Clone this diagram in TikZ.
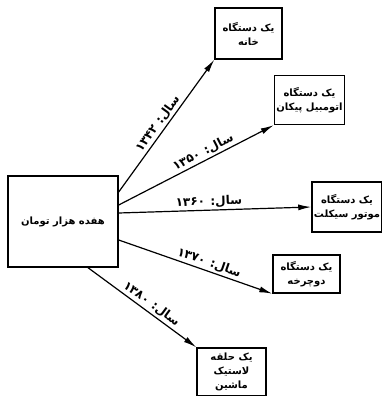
\documentclass[tikz,border=0pt]{standalone}
\usepackage{fontspec}
\usepackage{tikz}
\usetikzlibrary{arrows.meta,positioning}
\TeXXeTstate=1
\newfontfamily\arabicfont[Script=Arabic]{DejaVu Sans}
\tikzstyle{box}=[draw,rectangle,line width=1.4pt,align=center,inner sep=2pt,
font=\arabicfont\bfseries\fontsize{10}{14}\selectfont]
\tikzstyle{link}=[line width=1.2pt,-{Latex[length=13pt,width=6pt]}]
\tikzstyle{year}=[sloped,above,inner sep=2pt,font=\arabicfont\bfseries\fontsize{12}{14}\selectfont]

\begin{document}
\begin{tikzpicture}[x=1pt,y=-1pt]
  \useasboundingbox (0,0) rectangle (382,396);

  \node[box, minimum width=110pt, minimum height=91pt] (money) at (63,221.5)
    {\beginR هفده هزار تومان\endR};
  \node[box, minimum width=67pt, minimum height=51pt] (home) at (248.5,33.5)
    {\beginR یک دستگاه\endR\\ \beginR خانه\endR};
  \node[box, minimum width=65pt, minimum height=49pt] (car) at (309.5,100)
    {\beginR یک دستگاه\endR\\ \beginR اتومبیل پیکان\endR};
  \node[box, minimum width=68pt, minimum height=50pt] (motor) at (347,207)
    {\beginR یک دستگاه\endR\\ \beginR موتور سیکلت\endR};
  \node[box, minimum width=67pt, minimum height=38pt] (bike) at (306.5,274)
    {\beginR یک دستگاه\endR\\ \beginR دوچرخه\endR};
  \node[box, minimum width=69pt, minimum height=48pt] (tyre) at (231.5,372)
    {\beginR یک حلقه\endR\\ \beginR لاستیک\endR\\ \beginR ماشین\endR};

  \draw[link] ([yshift=29.5pt]money.east) -- node[year, pos=.48]
    {\beginR سال: \beginL ۱۳۴۲\endL\endR} (home.south west);
  \draw[link] ([yshift=16.5pt]money.east) -- node[year, pos=.57]
    {\beginR سال: \beginL ۱۳۵۰\endL\endR} (car.south west);
  \draw[link] ([yshift=8.5pt]money.east) -- node[year, pos=.47]
    {\beginR سال: \beginL ۱۳۶۰\endL\endR} (motor.west);
  \draw[link] ([yshift=-18.5pt]money.east) -- node[year, pos=.57]
    {\beginR سال: \beginL ۱۳۷۰\endL\endR} (bike.south west);
  \draw[link] ([xshift=25pt]money.south) -- node[year, pos=.54]
    {\beginR سال: \beginL ۱۳۸۰\endL\endR} (tyre.north west);
\end{tikzpicture}
\end{document}
